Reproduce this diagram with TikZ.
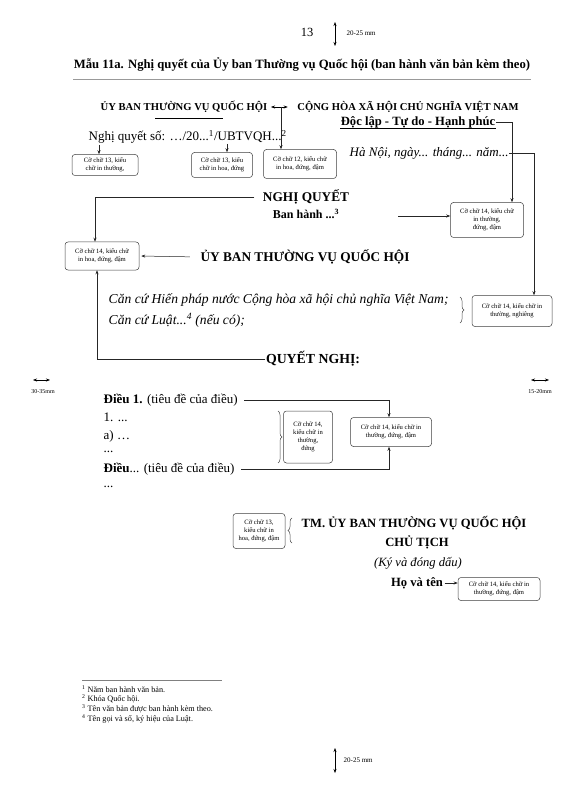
\documentclass[tikz,border=0pt]{standalone}
\usepackage{fontspec}
\setmainfont{Liberation Serif}
\usetikzlibrary{arrows.meta, positioning, calc, decorations.pathreplacing}
\tikzset{
  note/.style={rectangle, draw=black!75, fill=white, rounded corners=3pt,
               align=center, font=\fontsize{6.6}{7.8}\selectfont, inner sep=1.5pt,
               line width=0.5pt},
  arrow/.style={-{Stealth[length=4pt, width=3pt]}, draw=black!85, line width=0.5pt},
  darrow/.style={{Stealth[length=4pt, width=3pt]}-{Stealth[length=4pt, width=3pt]},
                 draw=black, line width=0.5pt},
  line/.style={draw=black!65, line width=0.6pt},
  rbrace/.style={decorate, decoration={brace, amplitude=4pt}, draw=black!70,
                 line width=0.5pt},
}

\begin{document}
\begin{tikzpicture}[
  x=1pt, y=-1pt,
  every node/.style={inner sep=0.5pt},
  head/.style={font=\bfseries\fontsize{10.6}{12}\selectfont},
  big/.style={font=\bfseries\fontsize{13.3}{15}\selectfont},
  body/.style={font=\fontsize{13}{15}\selectfont},
  ital/.style={font=\itshape\fontsize{13.6}{15}\selectfont},
  mm/.style={font=\fontsize{6}{7}\selectfont},
  foot/.style={font=\fontsize{8.2}{9}\selectfont, anchor=west, inner sep=0pt}
]
  \fill[white] (0,0) rectangle (569,799);

  % page number and title
  \node[font=\fontsize{12.5}{14}\selectfont] (pgno) at (307,32) {13};
  \coordinate (topA) at (335,22);
  \coordinate (topB) at (335,46);
  \draw[darrow] (topA) -- (topB);
  \node[mm, font=\fontsize{7}{8}\selectfont, anchor=west] (topmm) at (346,33) {20-25 mm};
  \node[font=\bfseries\fontsize{12.7}{14}\selectfont] (title) at (302,64)
    {Mẫu 11a. Nghị quyết của Ủy ban Thường vụ Quốc hội (ban hành văn bản kèm theo)};
  \draw[draw=black!40, line width=0.7pt] (title.south west |- 0,79) -- (title.south east |- 0,79);

  % header
  \node[head] (ubtv) at (184,107) {ỦY BAN THƯỜNG VỤ QUỐC HỘI};
  \draw[line width=0.5pt] (155,118) -- (223,118);
  \node[head] (chxh) at (408,107) {CỘNG HÒA XÃ HỘI CHỦ NGHĨA VIỆT NAM};
  \node[font=\bfseries\fontsize{12.6}{14}\selectfont] (dltd) at (418,122) {Độc lập - Tự do - Hạnh phúc};
  \draw[line width=0.5pt] (dltd.south west) -- (dltd.south east);
  \draw[darrow, shorten <=3pt, shorten >=9pt] (ubtv.east) -- (chxh.west);
  \coordinate (hmid) at (281,107);

  \node[body, anchor=west] (nqso) at (88,137)
    {Nghị quyết số: …/20...\textsuperscript{1}/UBTVQH...\textsuperscript{2}};
  \node[note, minimum width=66pt, minimum height=21pt] (b1) at (105,165)
    {Cỡ chữ 13, kiểu\\chữ in thường,};
  \node[note, minimum width=61pt, minimum height=25pt] (b2) at (222,165)
    {Cỡ chữ 13, kiểu\\chữ in hoa, đứng};
  \node[note, minimum width=73pt, minimum height=29pt] (b3) at (300,164)
    {Cỡ chữ 12, kiểu chữ\\in hoa, đứng, đậm};
  \coordinate (nq1) at (99,145);
  \coordinate (nq2) at (227,144);
  \draw[arrow] (nq1) -- (nq1 |- b1.north);
  \draw[arrow] (nq2) -- (nq2 |- b2.north);
  \draw[arrow] (hmid) -- (hmid |- b3.north);

  \node[ital, font=\itshape\fontsize{13}{15}\selectfont, anchor=west] (hanoi) at (349,153)
    {Hà Nội, ngày... tháng... năm...};
  \node[note, minimum width=73pt, minimum height=35pt] (b4) at (487,220)
    {Cỡ chữ 14, kiểu chữ\\in thường,\\đứng, đậm};
  \node[note, minimum width=80pt, minimum height=31pt] (b5) at (512,311)
    {Cỡ chữ 14, kiểu chữ in\\thường, nghiêng};
  \coordinate (r1) at (512,122);
  \coordinate (r2) at (534,153);
  \draw[arrow] (dltd.east) -- (r1) -- (r1 |- b4.north);
  \draw[arrow] (hanoi.east) -- (r2) -- (r2 |- b5.north);

  % NGHI QUYET
  \node[big] (nq) at (306,197) {NGHỊ QUYẾT};
  \node[font=\bfseries\fontsize{12}{14}\selectfont] (banhanh) at (306,214)
    {Ban hành ...\textsuperscript{3}};
  \node[note, minimum width=74pt, minimum height=28pt] (b6) at (102,256)
    {Cỡ chữ 14, kiểu chữ\\in hoa, đứng, đậm};
  \coordinate (l1) at (95,197);
  \draw[arrow] (nq.west) ++(-8,0) -- (l1) -- (l1 |- b6.north);
  \coordinate (bh) at (398,216);
  \draw[arrow] (bh) -- (b4.west |- bh);

  \node[big] (ubtv2) at (305,257) {ỦY BAN THƯỜNG VỤ QUỐC HỘI};
  \draw[arrow, shorten <=10pt, shorten >=2pt] (ubtv2.west) -- (b6.east);

  \node[ital, anchor=west] (cc1) at (108,300)
    {Căn cứ Hiến pháp nước Cộng hòa xã hội chủ nghĩa Việt Nam;};
  \node[ital, anchor=west] (cc2) at (108,320)
    {Căn cứ Luật...\textsuperscript{4} (nếu có);};
  \draw[rbrace] (460,297) -- (460,323);

  \node[big, font=\bfseries\fontsize{13.8}{15}\selectfont] (qn) at (313,359) {QUYẾT NGHỊ:};
  \coordinate (l2) at (97,359);
  \draw[arrow] (qn.west) -- (l2) -- (l2 |- b6.south);

  % margins
  \coordinate (mlA) at (33,380);
  \coordinate (mlB) at (50,380);
  \draw[darrow] (mlA) -- (mlB);
  \node[mm] (mlt) at (43,392) {30-35mm};
  \coordinate (mrA) at (531,380);
  \coordinate (mrB) at (549,380);
  \draw[darrow] (mrA) -- (mrB);
  \node[mm] (mrt) at (540,392) {15-20mm};

  % articles
  \node[body, anchor=west] (d1) at (103,400) {\textbf{Điều 1.} (tiêu đề của điều)};
  \node[body, anchor=west] (k1) at (103,417) {1. ...};
  \node[body, anchor=west] (a1) at (103,436) {a) …};
  \node[body, anchor=west] (e1) at (103,452) {...};
  \node[body, anchor=west] (dn) at (103,469) {\textbf{Điều}... (tiêu đề của điều)};
  \node[body, anchor=west] (e2) at (103,487) {...};
  \node[note, minimum width=81pt, minimum height=29pt] (b7) at (391,432)
    {Cỡ chữ 14, kiểu chữ in\\thường, đứng, đậm};
  \node[note, minimum width=49pt, minimum height=52pt] (b8) at (308,437)
    {Cỡ chữ 14,\\kiểu chữ in\\thường,\\đứng};
  \draw[rbrace] (278,411) -- (278,463);
  \coordinate (d1r) at (389,400);
  \coordinate (dnr) at (389,469);
  \draw[arrow, shorten <=6pt] (d1.east) -- (d1r) -- (b7.north -| d1r);
  \draw[arrow, shorten <=6pt] (dn.east) -- (dnr) -- (b7.south -| dnr);

  % signature
  \node[note, minimum width=52pt, minimum height=35pt] (b9) at (259,531)
    {Cỡ chữ 13,\\kiểu chữ in\\hoa, đứng, đậm};
  \draw[rbrace] (292,543) -- (292,518);
  \node[font=\bfseries\fontsize{12.6}{14}\selectfont] (tm) at (414,523)
    {TM. ỦY BAN THƯỜNG VỤ QUỐC HỘI};
  \node[font=\bfseries\fontsize{12.6}{14}\selectfont] (ct) at (417,542) {CHỦ TỊCH};
  \node[font=\itshape\fontsize{12.6}{14}\selectfont] (ky) at (418,563) {(Ký và đóng dấu)};
  \node[font=\bfseries\fontsize{12.6}{14}\selectfont] (hvt) at (417,583) {Họ và tên};
  \node[note, minimum width=82pt, minimum height=23pt] (b10) at (499,589)
    {Cỡ chữ 14, kiểu chữ in\\thường, đứng, đậm};
  \draw[arrow, shorten <=1pt] (hvt.east) -- (b10.west |- hvt.east);

  % footnotes
  \draw[draw=black!50, line width=0.6pt] (82,680) -- (222,680);
  \node[foot] (f1) at (82,689) {\textsuperscript{1} Năm ban hành văn bản.};
  \node[foot] (f2) at (82,699) {\textsuperscript{2} Khóa Quốc hội.};
  \node[foot] (f3) at (82,709) {\textsuperscript{3} Tên văn bản được ban hành kèm theo.};
  \node[foot] (f4) at (82,719) {\textsuperscript{4} Tên gọi và số, ký hiệu của Luật.};

  \coordinate (botA) at (335,748);
  \coordinate (botB) at (335,773);
  \draw[darrow] (botA) -- (botB);
  \node[mm, font=\fontsize{7}{8}\selectfont, anchor=west] (botmm) at (343,760) {20-25 mm};
\end{tikzpicture}
\end{document}
